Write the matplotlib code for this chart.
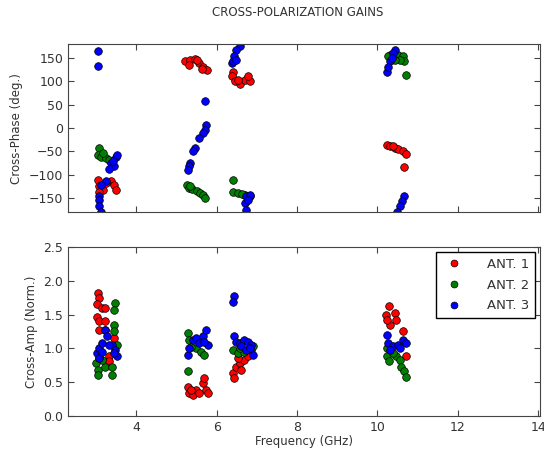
import matplotlib
matplotlib.use('Agg')
import matplotlib.pyplot as plt

# Cross-phase (deg.) per antenna: frequency (GHz) and phase
ant1_phase_f = [3.04, 3.08, 3.16, 3.37, 3.45, 3.49, 3.08, 3.24,
                5.22, 5.34, 5.47, 5.55, 5.67, 5.75, 5.30, 5.63, 5.51,
                6.41, 6.37, 6.45, 6.58, 6.70, 6.82, 6.78, 6.53,
                10.23, 10.31, 10.43, 10.51, 10.63, 10.70, 10.65, 10.39]
ant1_phase = [-111, -125, -132, -114, -121, -132, -136, -118,
              143, 146, 148, 139, 132, 125, 136, 126, 145,
              121, 111, 100, 95, 104, 100, 111, 104,
              -36, -39, -43, -45, -50, -55, -84, -39]

ant2_phase_f = [3.08, 3.04, 3.12, 3.24, 3.32, 3.16,
                5.26, 5.30, 5.38, 5.51, 5.59, 5.67, 5.71, 5.34,
                6.41, 6.41, 6.53, 6.70, 6.82, 6.62,
                10.31, 10.51, 10.63, 10.67, 10.55, 10.70, 10.43, 10.27]
ant2_phase = [-43, -57, -61, -64, -68, -54,
              -121, -129, -131, -134, -139, -143, -150, -125,
              -111, -136, -139, -143, -146, -141,
              157, 157, 154, 143, 146, 114, 146, 154]

ant3_phase_f = [3.05, 3.04, 3.37, 3.49, 3.45, 3.33, 3.53, 3.41,
                3.24, 3.12, 3.08, 3.08, 3.08, 3.12,
                5.71, 5.73, 5.70, 5.65, 5.55, 5.47, 5.42, 5.34, 5.30, 5.28,
                6.58, 6.49, 6.44, 6.37, 6.41, 6.47,
                6.74, 6.70, 6.74, 6.82, 6.78,
                10.43, 10.39, 10.31, 10.24, 10.27, 10.35,
                10.67, 10.62, 10.55, 10.49]
ant3_phase = [166, 134, -75, -61, -82, -88, -57, -71,
              -114, -121, -146, -154, -168, -179,
              57, 7, -4, -11, -21, -43, -50, -75, -82, -89,
              175, 168, 154, 139, 143, 146,
              -146, -161, -175, -143, -154,
              168, 161, 143, 121, 132, 150,
              -146, -157, -168, -179]

# Cross-amplitude (normalised) per antenna
ant1_amp_f = [3.05, 3.07, 3.03, 3.15, 3.23, 3.03, 3.07, 3.23, 3.07, 3.23, 3.44, 3.32, 3.32,
              5.28, 5.32, 5.40, 5.48, 5.57, 5.65, 5.69, 5.73, 5.78, 5.36,
              6.40, 6.44, 6.48, 6.57, 6.69, 6.78, 6.53, 6.61,
              10.29, 10.21, 10.43, 10.31, 10.46, 10.24, 10.63, 10.70]
ant1_amp = [1.82, 1.74, 1.65, 1.60, 1.60, 1.47, 1.40, 1.40, 1.27, 1.27, 1.15, 0.88, 0.81,
            0.43, 0.34, 0.31, 0.39, 0.34, 0.48, 0.56, 0.39, 0.34, 0.39,
            0.63, 0.56, 0.73, 0.78, 0.83, 0.88, 0.85, 0.68,
            1.63, 1.50, 1.52, 1.35, 1.42, 1.42, 1.25, 0.88]

ant2_amp_f = [3.47, 3.44, 3.44, 3.44, 3.00, 3.04, 3.04, 3.23, 3.40, 3.40, 3.52, 3.15, 3.08,
              5.28, 5.32, 5.48, 5.61, 5.69, 5.28, 5.36,
              6.40, 6.53, 6.69, 6.86, 6.90, 6.57,
              10.23, 10.24, 10.29, 10.47, 10.55, 10.59, 10.65, 10.70, 10.39]
ant2_amp = [1.67, 1.57, 1.35, 1.25, 0.78, 0.68, 0.61, 0.73, 0.73, 0.61, 1.05, 0.83, 0.85,
            1.22, 1.13, 1.00, 0.95, 0.90, 0.66, 1.02,
            0.98, 0.93, 0.95, 0.98, 1.03, 1.00,
            1.00, 0.88, 0.81, 0.88, 0.83, 0.73, 0.66, 0.58, 0.93]

ant3_amp_f = [3.03, 3.07, 3.15, 3.23, 3.27, 3.40, 3.48, 3.53, 3.07, 3.32, 3.44, 3.15,
              5.28, 5.32, 5.40, 5.48, 5.57, 5.65, 5.73, 5.78, 5.69,
              6.43, 6.40, 6.44, 6.48, 6.57, 6.69, 6.78, 6.86, 6.90, 6.61, 6.73, 6.82,
              10.24, 10.27, 10.39, 10.51, 10.63, 10.70, 10.55, 10.31]
ant3_amp = [0.93, 1.00, 1.08, 1.27, 1.18, 1.05, 0.98, 0.88, 0.85, 1.05, 0.93, 0.95,
            0.90, 1.00, 1.13, 1.15, 1.08, 1.18, 1.27, 1.05, 1.10,
            1.77, 1.69, 1.18, 1.10, 1.08, 1.13, 1.10, 1.05, 0.90, 1.03, 0.98, 1.00,
            1.20, 1.08, 1.03, 1.05, 1.13, 1.08, 1.00, 0.98]

labels = ['ANT. 1', 'ANT. 2', 'ANT. 3']
colors = ['#ff0000', '#008000', '#0000ff']

phase_sets = [(ant1_phase_f, ant1_phase), (ant2_phase_f, ant2_phase), (ant3_phase_f, ant3_phase)]
amp_sets = [(ant1_amp_f, ant1_amp), (ant2_amp_f, ant2_amp), (ant3_amp_f, ant3_amp)]

fig = plt.figure(figsize=(5.44, 4.55), dpi=100)
ax1 = fig.add_axes([0.125, 0.534, 0.868, 0.369])
ax2 = fig.add_axes([0.125, 0.086, 0.868, 0.371])

for (f, p), c, lab in zip(phase_sets, colors, labels):
    ax1.plot(f, p, 'o', color=c, mec='black', mew=0.5, ms=5.5, label=lab)
for (f, a), c, lab in zip(amp_sets, colors, labels):
    ax2.plot(f, a, 'o', color=c, mec='black', mew=0.5, ms=5.5, label=lab)

for ax in (ax1, ax2):
    ax.set_xlim(2.3, 14.05)
    ax.set_xticks([4, 6, 8, 10, 12, 14])
    ax.tick_params(direction='in', labelsize=9, length=4, color='#444444',
                   labelcolor='#333333', top=True, right=True)
    for s in ax.spines.values():
        s.set_color('#444444')

ax1.set_ylim(-180, 180)
ax1.set_yticks([-150, -100, -50, 0, 50, 100, 150])
ax1.set_xticklabels([])
ax1.set_ylabel('Cross-Phase (deg.)', fontsize=8.5, color='#333333')

ax2.set_ylim(0, 2.5)
ax2.set_yticks([0.0, 0.5, 1.0, 1.5, 2.0, 2.5])
ax2.set_ylabel('Cross-Amp (Norm.)', fontsize=8.5, color='#333333')
ax2.set_xlabel('Frequency (GHz)', fontsize=8.5, color='#333333', labelpad=1)

leg = ax2.legend(loc='upper right', numpoints=1, fontsize=9.5, fancybox=False,
                 framealpha=1, borderaxespad=0.4, handletextpad=1.5,
                 labelspacing=0.6, markerscale=0.9)
leg.get_frame().set_edgecolor('black')
for t in leg.get_texts():
    t.set_color('#333333')

fig.text(0.548, 0.973, 'CROSS-POLARIZATION GAINS', ha='center', va='center',
         fontsize=8.5, color='#333333')

fig.savefig('out.png', dpi=100)
